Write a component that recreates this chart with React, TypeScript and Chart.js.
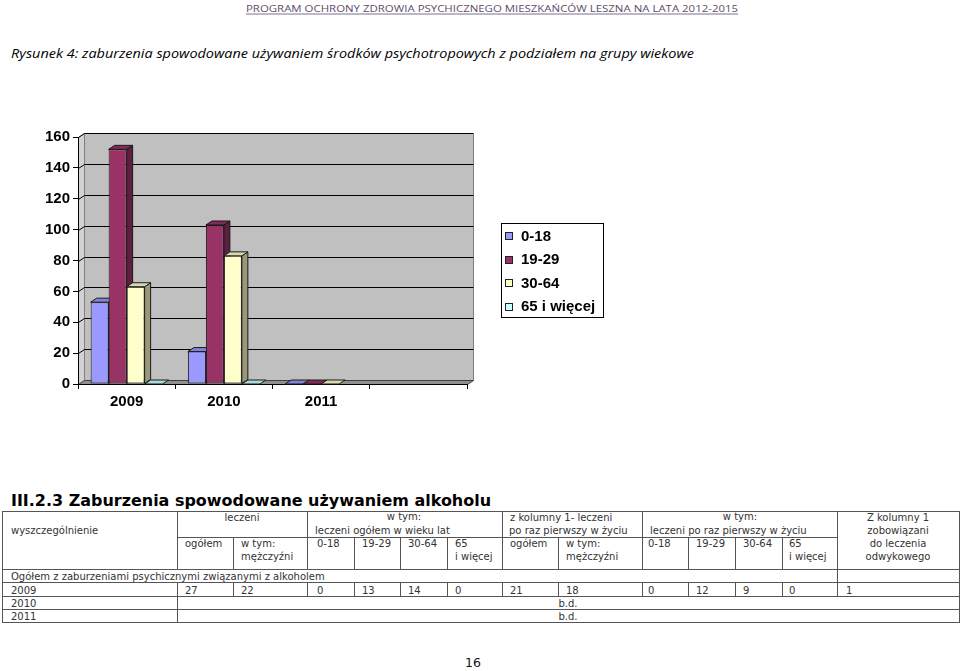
import React, { useEffect, useRef } from 'react';
import { Chart, registerables } from 'chart.js';

Chart.register(...registerables);

// ---------- chart data ----------
const categories = ['2009', '2010', '2011', ''];
const seriesNames = ['0-18', '19-29', '30-64', '65 i więcej'];
const age0to18 = [53, 21, 0, null];
const age19to29 = [152, 103, 0, null];
const age30to64 = [63, 83, 0, null];
const age65plus = [0, 0, null, null];
const seriesColors = ['#9999FF', '#993366', '#FFFFCC', '#CCFFFF'];
const yMin = 0;
const yMax = 160;
const yStep = 20;

// ---------- page texts / table data ----------
const pageHeader = 'PROGRAM OCHRONY ZDROWIA PSYCHICZNEGO MIESZKAŃCÓW LESZNA NA LATA 2012-2015';
const figureCaption = 'Rysunek 4: zaburzenia spowodowane używaniem środków psychotropowych z podziałem na grupy wiekowe';
const sectionHeading = 'III.2.3 Zaburzenia spowodowane używaniem alkoholu';
const tableYears = ['2009', '2010', '2011'];
const values2009 = ['27', '22', '0', '13', '14', '0', '21', '18', '0', '12', '9', '0', '1'];
const noDataText = 'b.d.';
const totalRowText = 'Ogółem z zaburzeniami psychicznymi związanymi z alkoholem';
const subHeaders: string[][] = [
  ['ogółem'], ['w tym:', 'mężczyźni'], ['0-18'], ['19-29'], ['30-64'], ['65', 'i więcej'],
  ['ogółem'], ['w tym:', 'mężczyźni'], ['0-18'], ['19-29'], ['30-64'], ['65', 'i więcej'],
];
const pageNumber = '16';

// ---------- 3D look ----------
const DX = 6;
const DY = -4;

function shade(hex: string, f: number) {
  const n = parseInt(hex.slice(1), 16);
  const r = Math.round(((n >> 16) & 255) * f);
  const g = Math.round(((n >> 8) & 255) * f);
  const b = Math.round((n & 255) * f);
  return `rgb(${r},${g},${b})`;
}

function poly(ctx: CanvasRenderingContext2D, pts: number[][], fill?: string, stroke?: string) {
  ctx.beginPath();
  ctx.moveTo(pts[0][0], pts[0][1]);
  for (let i = 1; i < pts.length; i++) ctx.lineTo(pts[i][0], pts[i][1]);
  ctx.closePath();
  if (fill) {
    ctx.fillStyle = fill;
    ctx.fill();
  }
  if (stroke) {
    ctx.strokeStyle = stroke;
    ctx.lineWidth = 1;
    ctx.stroke();
  }
}

const chartFont = "'Liberation Sans', Arial, sans-serif";

const threeDPlugin = {
  id: 'threeD',
  beforeDraw(chart: any) {
    const { ctx, chartArea } = chart;
    const left = chartArea.left + 0.5;
    const right = chartArea.right + 0.5;
    const top = chartArea.top + 0.5;
    const bottom = chartArea.bottom + 0.5;
    const ys = chart.scales.y;
    ctx.save();
    // back wall
    poly(ctx, [[left + DX, top + DY], [right + DX, top + DY], [right + DX, bottom + DY], [left + DX, bottom + DY]], '#c0c0c0', '#808080');
    // side wall
    poly(ctx, [[left, bottom], [left, top], [left + DX, top + DY], [left + DX, bottom + DY]], '#d2d2d2', '#808080');
    // floor
    poly(ctx, [[left, bottom], [right, bottom], [right + DX, bottom + DY], [left + DX, bottom + DY]], '#8f8f8f', '#404040');
    // grid lines on walls
    ctx.strokeStyle = '#000';
    ctx.lineWidth = 1;
    ys.ticks.forEach((t: any) => {
      if (t.value <= yMin) return;
      const py = Math.round(ys.getPixelForValue(t.value)) + 0.5;
      ctx.beginPath();
      ctx.moveTo(left, py);
      ctx.lineTo(left + DX, py + DY);
      ctx.lineTo(right + DX, py + DY);
      ctx.stroke();
    });
    ctx.restore();
  },
  beforeDatasetsDraw(chart: any) {
    const { ctx } = chart;
    const nCat = chart.data.labels.length;
    const nSet = chart.data.datasets.length;
    ctx.save();
    for (let i = 0; i < nCat; i++) {
      for (let d = 0; d < nSet; d++) {
        const v = chart.data.datasets[d].data[i];
        if (v === null || v === undefined) continue;
        const el = chart.getDatasetMeta(d).data[i];
        const { x, y, base, width } = el.getProps(['x', 'y', 'base', 'width'], true);
        const x1 = x - width / 2;
        const x2 = x + width / 2;
        const col = seriesColors[d];
        if (base - y > 0.5) {
          poly(ctx, [[x2, y], [x2 + DX, y + DY], [x2 + DX, base + DY], [x2, base]], shade(col, 0.6), '#1a1a1a');
        }
        poly(ctx, [[x1, y], [x1 + DX, y + DY], [x2 + DX, y + DY], [x2, y]], shade(col, 0.85), '#1a1a1a');
      }
    }
    ctx.restore();
  },
  afterDraw(chart: any) {
    const { ctx } = chart;
    const box = { x: 501, y: 103, w: 102, h: 94 };
    ctx.save();
    ctx.fillStyle = '#fff';
    ctx.fillRect(box.x, box.y, box.w, box.h);
    ctx.strokeStyle = '#000';
    ctx.lineWidth = 1;
    ctx.strokeRect(box.x + 0.5, box.y + 0.5, box.w, box.h);
    ctx.font = `bold 15px ${chartFont}`;
    ctx.textBaseline = 'middle';
    ctx.textAlign = 'left';
    chart.data.datasets.forEach((ds: any, i: number) => {
      const cy = 116 + i * 23.5;
      const sy = Math.round(cy - 4);
      ctx.fillStyle = ds.backgroundColor;
      ctx.fillRect(505, sy, 8, 8);
      ctx.strokeStyle = '#222';
      ctx.strokeRect(505.5, sy + 0.5, 7, 7);
      ctx.fillStyle = '#000';
      ctx.fillText(ds.label, 521, cy + 0.5);
    });
    ctx.restore();
  },
};

// ---------- table geometry ----------
const colX = [2, 177, 233, 307, 354, 400, 447, 502, 558, 642, 688, 735, 782, 837, 959];
const textX = [185, 241, 317, 362, 408, 455, 510, 566, 648, 696, 743, 789, 846];
const T = 511, SUB = 537, HB = 569, R1 = 582, R2 = 596, R3 = 609, R4 = 622;
const L1 = 520.5, L2 = 533.5, L3 = 547, L4 = 560;
const tFont = "'DejaVu Sans', Verdana, sans-serif";
const tColor = '#333';
const lineColor = '#555';

function Table() {
  const lines: JSX.Element[] = [];
  let k = 0;
  const h = (y: number, x1: number, x2: number) =>
    lines.push(<line key={k++} x1={x1} x2={x2} y1={y + 0.5} y2={y + 0.5} stroke={lineColor} strokeWidth={1} />);
  const v = (x: number, y1: number, y2: number) =>
    lines.push(<line key={k++} x1={x + 0.5} x2={x + 0.5} y1={y1} y2={y2 + 1} stroke={lineColor} strokeWidth={1} />);
  const L = colX[0], R = colX[colX.length - 1];
  [T, HB, R1, R2, R3, R4].forEach((y) => h(y, L, R + 1));
  h(SUB, colX[1], colX[13]);
  v(L, T, R4);
  v(R, T, R4);
  v(colX[1], T, HB);
  v(colX[1], R1, R4);
  [3, 7, 9].forEach((c) => { v(colX[c], T, HB); v(colX[c], R1, R2); });
  v(colX[13], T, R2);
  [2, 4, 5, 6, 8, 10, 11, 12].forEach((c) => { v(colX[c], SUB, HB); v(colX[c], R1, R2); });

  const txt = (s: string, x: number, y: number, anchor: string = 'start') => (
    <text key={k++} x={x} y={y} fontFamily={tFont} fontSize={10} fill={tColor} textAnchor={anchor as any}>{s}</text>
  );
  const texts: JSX.Element[] = [];
  texts.push(txt('wyszczególnienie', 11, L2));
  texts.push(txt('leczeni', (colX[1] + colX[3]) / 2, L1, 'middle'));
  texts.push(txt('w tym:', 404, L1 - 1, 'middle'));
  texts.push(txt('leczeni ogółem w wieku lat', 315, L2));
  texts.push(txt('z kolumny 1- leczeni', 510, L1));
  texts.push(txt('po raz pierwszy w życiu', 509, L2));
  texts.push(txt('w tym:', 740, L1 - 1, 'middle'));
  texts.push(txt('leczeni po raz pierwszy w życiu', 650, L2));
  const zc = (colX[13] + colX[14]) / 2;
  texts.push(txt('Z kolumny 1', zc, L1, 'middle'));
  texts.push(txt('zobowiązani', zc, L2, 'middle'));
  texts.push(txt('do leczenia', zc, L3, 'middle'));
  texts.push(txt('odwykowego', zc, L4, 'middle'));
  subHeaders.forEach((lns, i) => {
    lns.forEach((s, j) => texts.push(txt(s, textX[i], j === 0 ? L3 : L4)));
  });
  texts.push(txt(totalRowText, 11, R1 - 2.5));
  texts.push(txt(tableYears[0], 11, R2 - 2.5));
  values2009.forEach((s, i) => texts.push(txt(s, textX[i], R2 - 2.5)));
  texts.push(txt(tableYears[1], 11, R3 - 2.5));
  texts.push(txt(noDataText, (colX[1] + R) / 2, R3 - 2.5, 'middle'));
  texts.push(txt(tableYears[2], 11, R4 - 2.5));
  texts.push(txt(noDataText, (colX[1] + R) / 2, R4 - 2.5, 'middle'));

  return (
    <g shapeRendering="crispEdges">
      {lines}
      <g shapeRendering="auto">{texts}</g>
    </g>
  );
}

export default function App() {
  const ref = useRef<HTMLCanvasElement>(null);

  useEffect(() => {
    if (!ref.current) return;
    const seriesData = [age0to18, age19to29, age30to64, age65plus];
    const chart = new Chart(ref.current, {
      type: 'bar',
      data: {
        labels: categories,
        datasets: seriesNames.map((name, i) => ({
          label: name,
          data: seriesData[i],
          backgroundColor: seriesColors[i],
          borderColor: '#1a1a1a',
          borderWidth: 1,
          borderSkipped: false,
          categoryPercentage: 0.74,
          barPercentage: 1,
        })),
      },
      options: {
        responsive: false,
        maintainAspectRatio: false,
        animation: false,
        layout: { padding: { left: 0, top: 17, right: 173, bottom: 0 } },
        plugins: {
          legend: { display: false },
          tooltip: { enabled: false },
        },
        scales: {
          x: {
            offset: true,
            grid: { display: true, drawOnChartArea: false, drawTicks: true, tickLength: 5, color: '#000', offset: true },
            border: { display: true, color: '#000', width: 1 },
            ticks: {
              color: '#000',
              font: { family: chartFont, size: 15, weight: 'bold' },
              padding: 4,
              maxRotation: 0,
              autoSkip: false,
            },
            afterFit: (s: any) => { s.height = 36; },
          },
          y: {
            min: yMin,
            max: yMax,
            ticks: {
              stepSize: yStep,
              color: '#000',
              font: { family: chartFont, size: 15, weight: 'bold' },
              padding: 3,
            },
            grid: { display: true, drawOnChartArea: false, drawTicks: true, tickLength: 5, color: '#000' },
            border: { display: true, color: '#000', width: 1 },
            afterFit: (s: any) => { s.width = 78; },
          },
        },
      } as any,
      plugins: [threeDPlugin],
    });
    return () => chart.destroy();
  }, []);

  return (
    <div style={{ position: 'absolute', left: 0, top: 0, width: 960, height: 671, overflow: 'hidden', background: '#fff' }}>
      <svg width={960} height={671} style={{ position: 'absolute', left: 0, top: 0 }}>
        <text x={246} y={12} fontFamily="'Open Sans', 'Liberation Sans', sans-serif" fontSize={8.5} fill="#5b4d6b"
          textLength={492} lengthAdjust="spacingAndGlyphs">{pageHeader}</text>
        <line x1={246} x2={738} y1={14} y2={14} stroke="#5b4d6b" strokeWidth={0.8} />
        <text x={11} y={58} fontFamily="'Open Sans', 'Liberation Sans', sans-serif" fontStyle="italic" fontSize={12.5} fill="#000"
          textLength={683} lengthAdjust="spacingAndGlyphs">{figureCaption}</text>
        <text x={11} y={506} fontFamily={tFont} fontWeight="bold" fontSize={16} fill="#000"
          textLength={480} lengthAdjust="spacingAndGlyphs">{sectionHeading}</text>
        <Table />
        <text x={465} y={667} fontFamily={tFont} fontSize={12.5} fill="#111">{pageNumber}</text>
      </svg>
      <canvas ref={ref} width={640} height={300} style={{ position: 'absolute', left: 0, top: 120, width: 640, height: 300 }} />
    </div>
  );
}
